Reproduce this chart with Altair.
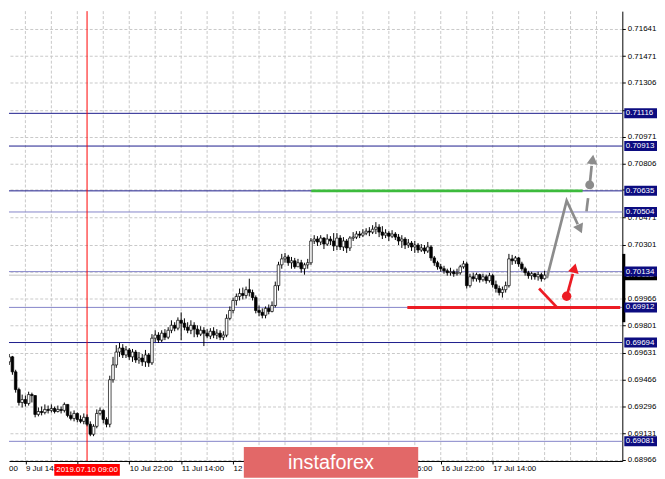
import altair as alt
import pandas as pd

# ---------------- layout ----------------
# plot area shows the reference's price/time window (the page margin crops the first 8 px)
W, H = 619, 454
FONT = "Liberation Sans"
X_DOMAIN = [2.443, 191.45]      # hourly bars
Y_DOMAIN = [0.68959, 0.71750]

# ---------------- data (prices in points, price = pts / 100000) ----------------
FIRST_OPEN = 69635
CLOSE = [69598, 69574, 69605, 69512, 69402, 69322, 69340, 69316, 69371, 69365,
         69248, 69266, 69260, 69279, 69273, 69285, 69266, 69279, 69273, 69310,
         69242, 69223, 69254, 69217, 69205, 69230, 69187, 69125, 69174, 69254,
         69273, 69217, 69187, 69463, 69555, 69635, 69660, 69617, 69648, 69605,
         69635, 69586, 69598, 69574, 69617, 69568, 69721, 69740, 69709, 69752,
         69727, 69770, 69801, 69783, 69832, 69814, 69789, 69770, 69801, 69777,
         69746, 69770, 69752, 69734, 69764, 69740, 69752, 69727, 69740, 69844,
         69893, 69955, 69980, 69998, 69986, 70022, 70004, 69973, 69893, 69881,
         69863, 69906, 69887, 69924, 70047, 70176, 70213, 70225, 70189, 70201,
         70164, 70189, 70152, 70176, 70189, 70324, 70336, 70318, 70342, 70305,
         70336, 70324, 70293, 70342, 70287, 70324, 70281, 70342, 70348, 70367,
         70360, 70373, 70385, 70379, 70397, 70410, 70379, 70360, 70373, 70354,
         70367, 70348, 70324, 70336, 70299, 70311, 70287, 70299, 70268, 70281,
         70262, 70287, 70219, 70189, 70164, 70152, 70139, 70127, 70133, 70121,
         70127, 70164, 70182, 70047, 70102, 70090, 70115, 70084, 70102, 70078,
         70109, 70053, 70029, 70004, 70022, 70047, 70213, 70201, 70219, 70182,
         70152, 70127, 70109, 70121, 70102, 70115, 70090, 70112]
HIGH = [69660, 69617, 69623, 69611, 69525, 69414, 69371, 69365, 69389, 69383,
        69365, 69291, 69297, 69310, 69303, 69310, 69297, 69303, 69297, 69322,
        69310, 69266, 69273, 69260, 69242, 69254, 69248, 69205, 69187, 69279,
        69291, 69279, 69230, 69488, 69605, 69678, 69691, 69684, 69672, 69660,
        69654, 69648, 69635, 69623, 69648, 69629, 69746, 69770, 69758, 69770,
        69777, 69789, 69832, 69820, 69850, 69881, 69844, 69820, 69832, 69820,
        69801, 69795, 69789, 69777, 69783, 69789, 69777, 69770, 69764, 69869,
        69918, 69973, 69998, 70029, 70035, 70041, 70090, 70022, 69986, 69924,
        69906, 69918, 69930, 69949, 70072, 70195, 70244, 70250, 70238, 70225,
        70219, 70213, 70207, 70189, 70213, 70342, 70360, 70354, 70360, 70348,
        70366, 70354, 70373, 70373, 70360, 70348, 70336, 70354, 70379, 70385,
        70385, 70397, 70403, 70410, 70422, 70441, 70428, 70416, 70397, 70385,
        70391, 70379, 70367, 70360, 70348, 70336, 70324, 70324, 70311, 70305,
        70299, 70318, 70299, 70231, 70201, 70182, 70170, 70152, 70158, 70146,
        70152, 70176, 70201, 70195, 70121, 70127, 70127, 70121, 70121, 70115,
        70127, 70121, 70078, 70047, 70041, 70072, 70244, 70238, 70231, 70225,
        70195, 70164, 70139, 70133, 70127, 70133, 70127, 70139]
LOW = [69574, 69549, 69555, 69494, 69383, 69303, 69291, 69297, 69303, 69322,
       69230, 69236, 69242, 69248, 69254, 69260, 69254, 69260, 69254, 69260,
       69230, 69211, 69205, 69199, 69193, 69187, 69174, 69113, 69113, 69162,
       69242, 69193, 69168, 69168, 69445, 69537, 69605, 69598, 69598, 69586,
       69574, 69568, 69562, 69549, 69543, 69543, 69555, 69697, 69691, 69697,
       69709, 69715, 69752, 69764, 69770, 69709, 69770, 69752, 69746, 69727,
       69727, 69734, 69672, 69721, 69715, 69721, 69715, 69709, 69709, 69727,
       69832, 69875, 69924, 69955, 69961, 69967, 69980, 69955, 69875, 69857,
       69844, 69844, 69869, 69881, 69912, 70016, 70152, 70189, 70170, 70152,
       70152, 70164, 70127, 70115, 70152, 70176, 70305, 70293, 70299, 70274,
       70293, 70299, 70262, 70268, 70268, 70262, 70250, 70262, 70324, 70336,
       70342, 70348, 70360, 70354, 70367, 70367, 70348, 70336, 70342, 70324,
       70342, 70330, 70299, 70281, 70274, 70281, 70262, 70250, 70250, 70256,
       70244, 70250, 70201, 70170, 70146, 70133, 70121, 70109, 70109, 70102,
       70109, 70115, 70152, 70029, 70035, 70072, 70072, 70066, 70072, 70059,
       70066, 70035, 70004, 69986, 69973, 70004, 70035, 70176, 70182, 70164,
       70139, 70109, 70090, 70084, 70084, 70078, 70072, 70084]
POINT = 100000.0

# time axis: bar index of each labelled time
TICK_BAR = [7, 23, 39, 55, 71, 87, 103, 119, 135, 151]
TICK_LABELS = ["9 Jul 14:00", "10 Jul 06:00", "10 Jul 22:00", "11 Jul 14:00",
               "12 Jul 06:00", "12 Jul 22:00", "15 Jul 14:00", "16 Jul 06:00",
               "16 Jul 22:00", "17 Jul 14:00"]
COVERED = [1, 5, 6]   # labels fully hidden under the time box / watermark
CROSS_BAR = 26
CROSS_LABEL = "2019.07.10 09:00"

Y_TICKS = [0.71641, 0.71471, 0.71306, 0.71136, 0.70971, 0.70806, 0.70641, 0.70471,
           0.70301, 0.70131, 0.69966, 0.69801, 0.69631, 0.69466, 0.69296, 0.69131, 0.68966]
Y_COVERED = [0.71136, 0.70641, 0.70131]   # price labels hidden under level boxes

LEVELS = [0.71116, 0.70913, 0.70635, 0.70504, 0.70134, 0.69912, 0.69694, 0.69081]
LEVEL_DARK = [True, True, True, False, False, False, True, False]

RIGHT_BAR = [0.70244, 0.69820]

# forecast drawings (bar-hour, price)
GREEN_LEVEL, GREEN_FROM, GREEN_TO = 0.70635, 95.6, 179.2
RED_LEVEL, RED_FROM, RED_TO = 0.69912, 125.2, 190.8
GRAY_PATH_T = [168.2, 174.3, 177.7]
GRAY_PATH_P = [0.70094, 0.70574, 0.70428]
GRAY_HEAD1 = (178.4, 0.70398, 156)
GRAY_DASH_T = [180.4, 180.9]
GRAY_DASH_P = [0.70508, 0.70590]
GRAY_DOT = (181.4, 0.70672)
GRAY_SHAFT_T = [181.4, 182.0]
GRAY_SHAFT_P = [0.70672, 0.70790]
GRAY_HEAD2 = (182.3, 0.70830, 7)
RED_DIAG_T = [165.8, 171.3]
RED_DIAG_P = [0.70029, 0.69912]
RED_DOT = (174.3, 0.69981)
RED_SHAFT_T = [174.3, 176.2]
RED_SHAFT_P = [0.69981, 0.70120]
RED_HEAD = (176.7, 0.70156, 14)

# ---------------- colours ----------------
NAVY = "#0c0c80"
DARK_LINE = "#1c1c8c"
LIGHT_LINE = "#8484c8"
GRID = "#c8c8c8"
GRAY = "#8c8c8c"
RED = "#ec1c24"
GREEN = "#3dbb3d"
FS = 8

# ---------------- scales / axes ----------------
tick_h = [b + 0.5 for b in TICK_BAR]
shown = ["" if k in COVERED else lab for k, lab in enumerate(TICK_LABELS)]
expr = "".join(f"datum.value < {tick_h[k] + 8} ? '{lab}' : " for k, lab in enumerate(shown[:-1]))
expr += f"'{shown[-1]}'"
yexpr = " || ".join(f"abs(datum.value - {v}) < 0.000005" for v in Y_COVERED)
yexpr = f"({yexpr}) ? '' : format(datum.value, '.5f')"

XAXIS = alt.Axis(values=tick_h, labelExpr=expr, labelAlign="left", labelBaseline="top",
                 labelFont=FONT, labelFontSize=FS, labelColor="black", labelOverlap=False,
                 labelFlush=False, labelPadding=1, tickSize=3, tickColor="black",
                 domainColor="black", grid=False, title=None)
YAXIS = alt.Axis(orient="right", values=Y_TICKS, labelExpr=yexpr, labelFont=FONT, labelFontSize=FS,
                 labelColor="black", labelOverlap=False, labelFlush=False, labelPadding=2,
                 tickSize=3, tickColor="black", domainColor="black", grid=True,
                 gridColor=GRID, gridDash=[3, 2], gridWidth=1, title=None)
XS = alt.Scale(domain=X_DOMAIN, nice=False, zero=False)
YS = alt.Scale(domain=Y_DOMAIN, nice=False, zero=False)


def X(f):
    return alt.X(f, type="quantitative", scale=XS, axis=XAXIS)


def Y(f):
    return alt.Y(f, type="quantitative", scale=YS, axis=YAXIS)


# ---------------- frames ----------------
n = len(CLOSE)
opens = [FIRST_OPEN] + CLOSE[:-1]
cd = pd.DataFrame({
    "t": [i + 0.5 for i in range(n)],
    "o": [v / POINT for v in opens],
    "c": [v / POINT for v in CLOSE],
    "h": [v / POINT for v in HIGH],
    "l": [v / POINT for v in LOW],
})
cd["bl"] = cd["t"] - 0.4
cd["br"] = cd["t"] + 0.4
cd["lo"] = cd[["l", "o", "c"]].min(axis=1)
cd["hi"] = cd[["h", "o", "c"]].max(axis=1)
bid = CLOSE[-1] / POINT

one = pd.DataFrame({"a": [0]})
vgrid = pd.DataFrame({"t": [tick_h[0] + 8 * k for k in range(30) if tick_h[0] + 8 * k < X_DOMAIN[1]]})
lev = pd.DataFrame({"p": LEVELS,
                    "col": [DARK_LINE if d else LIGHT_LINE for d in LEVEL_DARK],
                    "label": [f"{v:.5f}" for v in LEVELS]})
lev["lo"] = lev["p"] - 0.00031
lev["hi"] = lev["p"] + 0.00031
bidf = pd.DataFrame({"p": [bid], "lo": [bid - 0.00031], "hi": [bid + 0.00031], "label": [f"{bid:.5f}"]})

layers = []
layers.append(alt.Chart(vgrid).mark_rule(color=GRID, strokeDash=[3, 2], strokeWidth=1)
              .encode(x=X("t"), y=alt.value(0), y2=alt.value(H)))
layers.append(alt.Chart(bidf).mark_rule(color="#c0c0c0", strokeWidth=1)
              .encode(x=alt.value(0), x2=alt.value(W), y=Y("p")))
layers.append(alt.Chart(lev).mark_rule(strokeWidth=1)
              .encode(x=alt.value(0), x2=alt.value(W), y=Y("p"), color=alt.Color("col:N", scale=None)))
layers.append(alt.Chart(pd.DataFrame({"t": [CROSS_BAR + 0.5]})).mark_rule(color="#ff0000", strokeWidth=1)
              .encode(x=X("t"), y=alt.value(0), y2=alt.value(H)))
layers.append(alt.Chart(cd).mark_rule(color="black", strokeWidth=1, clip=True)
              .encode(x=X("t"), y=Y("lo"), y2="hi"))
layers.append(alt.Chart(cd).mark_rect(stroke="black", strokeWidth=0.7, clip=True)
              .encode(x=X("bl"), x2="br", y=Y("o"), y2="c",
                      fill=alt.condition("datum.c >= datum.o", alt.value("white"), alt.value("black"))))

# forecast drawings
hl = pd.DataFrame({"a": [GREEN_FROM, RED_FROM], "b": [GREEN_TO, RED_TO],
                   "p": [GREEN_LEVEL, RED_LEVEL], "col": [GREEN, RED]})
layers.append(alt.Chart(hl).mark_rule(strokeWidth=3)
              .encode(x=X("a"), x2="b", y=Y("p"), color=alt.Color("col:N", scale=None)))


def path_df(groups):
    rows = []
    for g, (ts, ps) in enumerate(groups):
        for k, (t, p) in enumerate(zip(ts, ps)):
            rows.append({"g": g, "k": k, "t": t, "p": p})
    return pd.DataFrame(rows)


layers.append(alt.Chart(path_df([(GRAY_PATH_T, GRAY_PATH_P), (GRAY_SHAFT_T, GRAY_SHAFT_P)]))
              .mark_line(color=GRAY, strokeWidth=2.7, strokeJoin="miter")
              .encode(x=X("t"), y=Y("p"), detail="g:N", order="k:Q"))
layers.append(alt.Chart(path_df([(GRAY_DASH_T, GRAY_DASH_P)]))
              .mark_line(color=GRAY, strokeWidth=2.7)
              .encode(x=X("t"), y=Y("p"), detail="g:N", order="k:Q"))
layers.append(alt.Chart(path_df([(RED_DIAG_T, RED_DIAG_P), (RED_SHAFT_T, RED_SHAFT_P)]))
              .mark_line(color=RED, strokeWidth=2.7)
              .encode(x=X("t"), y=Y("p"), detail="g:N", order="k:Q"))
for (t, p), col, sz in [(GRAY_DOT, GRAY, 80), (RED_DOT, RED, 90)]:
    layers.append(alt.Chart(pd.DataFrame({"t": [t], "p": [p]}))
                  .mark_point(shape="circle", filled=True, opacity=1, color=col, size=sz)
                  .encode(x=X("t"), y=Y("p")))
for (t, p, ang), col in [(GRAY_HEAD1, GRAY), (GRAY_HEAD2, GRAY), (RED_HEAD, RED)]:
    layers.append(alt.Chart(pd.DataFrame({"t": [t], "p": [p]}))
                  .mark_point(shape="triangle-up", filled=True, opacity=1, color=col, size=120, angle=ang)
                  .encode(x=X("t"), y=Y("p")))

# thick marker on the price scale
layers.append(alt.Chart(pd.DataFrame({"a": [RIGHT_BAR[0]], "b": [RIGHT_BAR[1]]}))
              .mark_rule(color="black", strokeWidth=3)
              .encode(x=alt.value(W + 1.5), y=Y("a"), y2="b"))

# price boxes on the right
layers.append(alt.Chart(bidf).mark_rect(color="black")
              .encode(x=alt.value(W + 2), x2=alt.value(W + 35), y=Y("lo"), y2="hi"))
layers.append(alt.Chart(bidf).mark_text(align="left", baseline="middle", font=FONT, fontSize=FS, color="white")
              .encode(x=alt.value(W + 3.5), y=Y("p"), text="label:N"))
layers.append(alt.Chart(lev).mark_rect(color=NAVY)
              .encode(x=alt.value(W + 2), x2=alt.value(W + 35), y=Y("lo"), y2="hi"))
layers.append(alt.Chart(lev).mark_text(align="left", baseline="middle", font=FONT, fontSize=FS, color="white")
              .encode(x=alt.value(W + 3.5), y=Y("p"), text="label:N"))

# crosshair time label
cl = pd.DataFrame({"t": [CROSS_BAR + 0.5], "a": [CROSS_BAR + 0.5 - 10.1],
                   "b": [CROSS_BAR + 0.5 + 10.1], "label": [CROSS_LABEL]})
layers.append(alt.Chart(cl).mark_rect(color="#ff0000")
              .encode(x=X("a"), x2="b", y=alt.value(H + 3), y2=alt.value(H + 15)))
layers.append(alt.Chart(cl).mark_text(align="center", baseline="middle", font=FONT, fontSize=FS, color="white")
              .encode(x=X("t"), y=alt.value(H + 9.5), text="label:N"))
layers.append(alt.Chart(pd.DataFrame({"label": ["00"]}))
              .mark_text(align="left", baseline="top", font=FONT, fontSize=FS, color="black")
              .encode(x=alt.value(0), y=alt.value(H + 4), text="label:N"))

# watermark
layers.append(alt.Chart(one).mark_rect(color="#e26868")
              .encode(x=alt.value(237), x2=alt.value(413), y=alt.value(H - 14), y2=alt.value(H + 17)))
layers.append(alt.Chart(pd.DataFrame({"label": ["instaforex"]}))
              .mark_text(align="center", baseline="middle", font=FONT, fontSize=20, color="white")
              .encode(x=alt.value(325), y=alt.value(H + 2), text="label:N"))

chart = (alt.layer(*layers)
         .properties(width=W, height=H, padding=0, background="white")
         .configure_view(stroke=None))

chart.save("out.html", embed_options={"renderer": "svg", "actions": False})
